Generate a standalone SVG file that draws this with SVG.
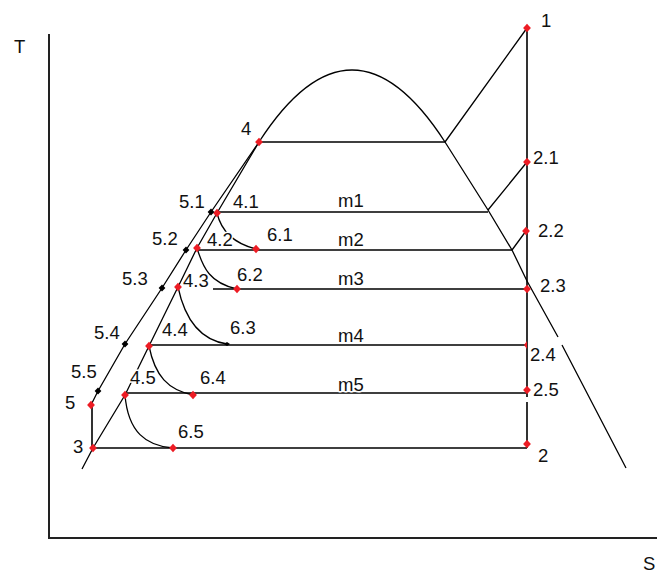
<svg xmlns="http://www.w3.org/2000/svg" xmlns:xlink="http://www.w3.org/1999/xlink" width="657" height="576" viewBox="0 0 657 576">
<style>
.ln{fill:none;stroke:#000;stroke-width:1.3;stroke-linejoin:round}
.h{fill:none;stroke:#000;stroke-width:1.6}
.ax{fill:none;stroke:#222;stroke-width:2}
text{font-family:"Liberation Sans",Arial,sans-serif;font-size:18.5px;fill:#111;stroke:#fff;stroke-width:3;paint-order:stroke;stroke-linejoin:round}
</style>
<defs>
<path id="rd" d="M0,-4.2L3.9,0L0,4.2L-3.9,0Z" fill="#ed1c24"/>
<path id="bd" d="M0,-3.6L3.4,0L0,3.6L-3.4,0Z" fill="#000"/>
</defs>
<rect width="657" height="576" fill="#fff"/>
<g id="axes">
<path class="ax" d="M49,34V538H657"/>
<text x="14" y="53">T</text>
<text x="643" y="570">S</text>
</g>
<g id="connectors">
<path class="ln" d="M259,142Q352,-2 445,142L488,210L512,250L527,281L558,337M562,345L626,468"/>
<path class="ln" d="M259,142L211,212L186,250L162,288L125,344L98,391L91,405"/>
<path class="ln" d="M259,142L217,213L197,248L178,287L149,346L125,395L93,448L82,469"/>
<path class="ln" d="M527,28L445,142M527,162L488,210M526,231L512,250"/>
<path class="h" d="M527,28V397M527,402V448M92,405V448"/>
<path class="h" d="M259,142H445M217,212H488M197,250H512M213,289H527M149,345H527M125,393H527M93,448H527"/>
<path class="ln" d="M217,213C221,230 232,243 256,249"/>
<path class="ln" d="M197,248C203,268 210,283 237,289"/>
<path class="ln" d="M178,287C185,320 200,340 227,344"/>
<path class="ln" d="M149,346C155,376 168,390 193,395"/>
<path class="ln" d="M125,395C128,432 146,446 173,448"/>
<text x="338" y="207">m1</text>
<text x="338" y="246">m2</text>
<text x="338" y="285">m3</text>
<text x="338" y="342">m4</text>
<text x="338" y="391">m5</text>
</g>
<g id="n1"><use xlink:href="#rd" x="527" y="28"/><text x="541" y="27">1</text></g>
<g id="n2-1"><use xlink:href="#rd" x="527" y="162"/><text x="533" y="164">2.1</text></g>
<g id="n2-2"><use xlink:href="#rd" x="526" y="231"/><text x="538" y="237">2.2</text></g>
<g id="n2-3"><use xlink:href="#rd" x="527" y="289"/><text x="540" y="292">2.3</text></g>
<g id="n2-4"><path d="M527,341L524,345L527,349Z" fill="#ed1c24"/><text x="530" y="361">2.4</text></g>
<g id="n2-5"><use xlink:href="#rd" x="527" y="390"/><text x="533" y="396">2.5</text></g>
<g id="n2"><use xlink:href="#rd" x="527" y="444"/><text x="538" y="462">2</text></g>
<g id="n4"><use xlink:href="#rd" x="259" y="142"/><text x="241" y="135">4</text></g>
<g id="n4-1"><use xlink:href="#rd" x="217" y="213"/><text x="233" y="208">4.1</text></g>
<g id="n4-2"><use xlink:href="#rd" x="197" y="248"/><text x="207" y="246">4.2</text></g>
<g id="n4-3"><use xlink:href="#rd" x="178" y="287"/><text x="183" y="287">4.3</text></g>
<g id="n4-4"><use xlink:href="#rd" x="149" y="346"/><text x="162" y="336">4.4</text></g>
<g id="n4-5"><use xlink:href="#rd" x="125" y="395"/><text x="130" y="384">4.5</text></g>
<g id="n5-1"><use xlink:href="#bd" x="211" y="212"/><text x="179" y="208">5.1</text></g>
<g id="n5-2"><use xlink:href="#bd" x="186" y="250"/><text x="152" y="245">5.2</text></g>
<g id="n5-3"><use xlink:href="#bd" x="162" y="288"/><text x="122" y="285">5.3</text></g>
<g id="n5-4"><use xlink:href="#bd" x="125" y="344"/><text x="94" y="339">5.4</text></g>
<g id="n5-5"><use xlink:href="#bd" x="98" y="391"/><text x="71" y="378">5.5</text></g>
<g id="n5"><use xlink:href="#rd" x="91" y="405"/><text x="65" y="409">5</text></g>
<g id="n3"><use xlink:href="#rd" x="93" y="448"/><text x="73" y="453">3</text></g>
<g id="n6-1"><use xlink:href="#rd" x="256" y="249"/><text x="267" y="241">6.1</text></g>
<g id="n6-2"><use xlink:href="#rd" x="237" y="289"/><text x="237" y="281">6.2</text></g>
<g id="n6-3"><path d="M224,344L227,342L230,344L227,346Z" fill="#000"/><text x="230" y="334">6.3</text></g>
<g id="n6-4"><use xlink:href="#rd" x="193" y="395"/><text x="200" y="384">6.4</text></g>
<g id="n6-5"><use xlink:href="#rd" x="173" y="448"/><text x="178" y="438">6.5</text></g>
</svg>
